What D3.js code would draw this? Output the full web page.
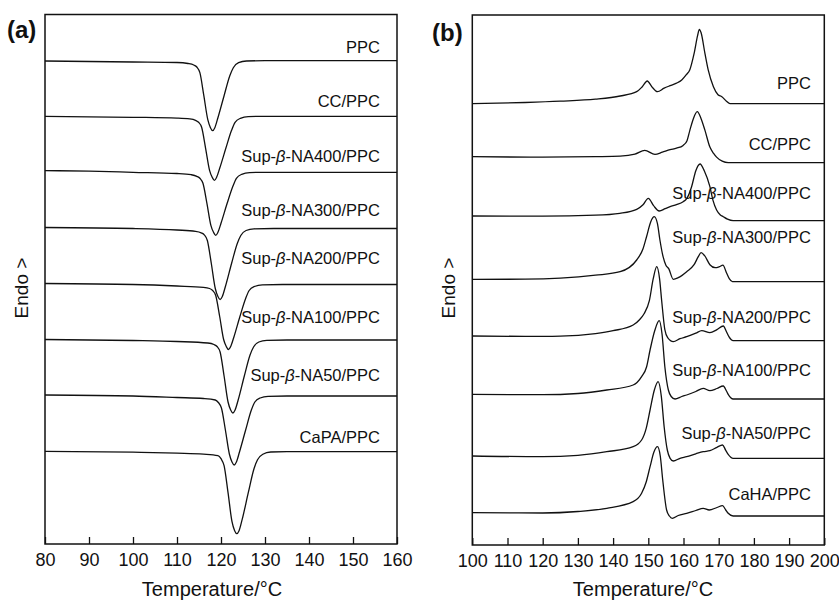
<!DOCTYPE html>
<html lang="en">
<head>
<meta charset="UTF-8">
<title>DSC curves</title>
<script src="https://d3js.org/d3.v7.min.js"></script>
<style>
    body { margin: 0; background: #fff; font-family: 'Liberation Sans', Arial, sans-serif; }
    svg text { fill: #111; }
</style>
</head>
<body>
<script>
// ---------- panel (a): crystallization (exo down) ----------
const namesA = ["PPC", "CC/PPC", "Sup-β-NA400/PPC", "Sup-β-NA300/PPC",
    "Sup-β-NA200/PPC", "Sup-β-NA100/PPC", "Sup-β-NA50/PPC", "CaPA/PPC"];
const offsetsA = [483.3, 427.7, 371.7, 315.5, 259.5, 204, 148, 92.3];
const ticksA = [80, 90, 100, 110, 120, 130, 140, 150, 160];

// [temperature, heat flow relative to baseline]
const ppcA = [[80,-0.3],[100,-1.3],[110,-1.8],[112.5,-2.8],[113.8,-4.3],[114.5,-6.3],[115.2,-12],[116.1,-35],[117,-59],[117.6,-67],[118.1,-70],[118.6,-67],[119.3,-57],[120.7,-35],[122,-15],[122.8,-7],[124,-2],[125.8,-0.3],[130,0],[160,0]];
const ccA = [[80,0],[100,-1],[110,-1.8],[112.9,-2.6],[114.2,-4],[114.9,-6],[115.6,-11],[116.5,-32],[117.4,-54],[118,-61],[118.5,-64],[119,-61],[119.7,-52],[121.1,-32],[122.4,-14],[123.2,-6],[124.4,-2],[126.2,-0.3],[130,0],[160,0]];
const sup400A = [[80,1.6],[90,1.2],[100,0],[110,-1.2],[113.2,-2.4],[114.5,-4],[115.2,-6],[115.9,-11],[116.8,-31],[117.7,-53],[118.3,-60],[118.8,-63],[119.3,-60],[120,-51],[121.4,-31],[122.7,-14],[123.5,-6],[124.7,-2],[126.5,-0.3],[130,0],[160,0]];
const sup300A = [[80,1],[100,0],[110,-1.5],[114.2,-2.8],[115.5,-4.3],[116.2,-6.3],[116.9,-12],[117.8,-35],[118.7,-60],[119.3,-68],[119.8,-71],[120.3,-68],[121,-58],[122.4,-35],[123.7,-15],[124.5,-7],[125.7,-2],[127.5,-0.3],[132,0],[160,0]];
const sup200A = [[80,1],[100,0],[110,-1.5],[116,-2.8],[117.4,-4],[118.1,-6],[118.8,-11],[119.7,-32],[120.6,-55],[121.2,-62],[121.7,-65],[122.2,-62],[122.9,-53],[124.3,-32],[125.6,-14],[126.4,-6],[127.6,-2],[129.4,-0.3],[134,0],[160,0]];
const sup100A = [[80,0.5],[100,-0.5],[110,-1.5],[117,-3],[118.4,-4.5],[119.1,-6.5],[119.8,-12],[120.7,-36],[121.6,-62],[122.2,-70],[122.7,-73],[123.2,-70],[123.9,-60],[125.3,-36],[126.6,-15],[127.4,-7],[128.6,-2],[130.4,-0.3],[135,0],[160,0]];
const sup50A = [[80,1],[100,0],[110,-1.5],[116,-2.5],[118.7,-4],[119.4,-6.5],[120.1,-12],[121,-34],[121.9,-58],[122.5,-66],[123,-69],[123.5,-66],[124.2,-56],[125.6,-34],[126.9,-14],[127.7,-6],[128.9,-2],[130.7,-0.3],[135,0],[160,0]];
const capaA = [[80,0.3],[100,-0.5],[110,-1.5],[116,-2.5],[119.3,-4],[120,-7],[120.7,-14],[121.6,-41],[122.5,-70],[123.1,-79],[123.6,-82],[124.1,-79],[124.8,-68],[126.2,-41],[127.5,-17],[128.3,-8],[129.5,-2.5],[131.3,-0.3],[135,0],[160,0]];
const curvesA = [ppcA, ccA, sup400A, sup300A, sup200A, sup100A, sup50A, capaA];

// ---------- panel (b): melting (endo up) ----------
const namesB = ["PPC", "CC/PPC", "Sup-β-NA400/PPC", "Sup-β-NA300/PPC",
    "Sup-β-NA200/PPC", "Sup-β-NA100/PPC", "Sup-β-NA50/PPC", "CaHA/PPC"];
const offsetsB = [441.3, 382.3, 324.3, 263.3, 204.3, 146, 86.7, 29];
const ticksB = [100, 110, 120, 130, 140, 150, 160, 170, 180, 190, 200];

const ppcB = [[100,0],[115,1.2],[125,2.5],[135,4.5],[142,7.7],[146.7,12],[148.3,17],[149.7,22.7],[151,17],[152.6,12],[154.5,15.5],[156.2,18],[158,20.5],[159.5,23.7],[160.8,29],[161.8,34],[163,50],[164,68],[164.5,74.4],[165,71],[166.1,50],[167,34],[168.5,17],[169.8,9],[170.9,7],[172.2,2.5],[173.2,0],[200,0]];
const ccB = [[100,6],[120,5.5],[135,6],[142,6.5],[146.2,8.5],[149,12.3],[151.9,8.3],[154,10.5],[156.2,13],[158,14.5],[159.9,17.3],[161,22],[161.8,32.3],[162.8,44],[163.9,51],[165,44],[166.1,32.3],[167.5,15.6],[168.5,9.5],[169.4,5.6],[171,1.5],[172.7,0],[200,0]];
const sup400B = [[100,4.7],[120,4.5],[135,5.5],[141.9,7.4],[146.7,11.4],[148.5,16],[150,22.4],[151.5,15],[153.1,9.7],[154.8,12],[156.2,14],[158,16],[159.9,19],[160.9,22],[162.3,34],[163.5,50],[164.7,56.7],[165.9,50],[167.5,34],[168.4,20],[169.4,10.7],[170.4,6],[171.3,4],[172.5,1.5],[174.1,0],[200,0]];
const sup300B = [[100,2.4],[115,2.5],[125,3.5],[135,6.5],[142,10],[146.7,21.7],[148.5,33],[149.5,45],[150.7,60],[151.7,65],[152.6,58],[153.3,41.7],[154.2,25],[155,16.5],[155.8,13],[157.1,2.4],[158.5,4],[160.9,10],[163,17],[164.2,25],[165,29],[166,26],[167.5,17],[169,14],[170.2,15],[171.2,16.5],[172.2,9],[173,3],[173.9,0],[200,0]];
const sup200B = [[100,4.7],[115,4.3],[125,4.5],[135,7],[140,10],[145.7,15.7],[147.5,21],[148.8,27],[150.3,40],[151.4,62],[152.4,74],[153.2,62],[153.8,40],[154.7,11],[155.5,3],[157.1,-1],[159,2],[160.9,4],[163.5,7.5],[165.2,10],[167.5,8],[169.5,11],[171.3,14.7],[172.2,9],[172.9,4],[174.1,0],[200,0]];
const sup100B = [[100,4.7],[120,4.3],[130,5.5],[138.2,9],[145.7,14],[148.1,22.3],[149.5,32],[150.5,49],[151.8,68],[153.1,78.3],[153.9,65],[154.7,32.3],[155.7,9],[156.5,2.5],[157.6,0],[159.5,2.5],[160.9,4],[163.5,7.5],[165.6,10.7],[167.5,8.3],[169.5,10.5],[171.3,13],[172.2,8],[172.7,4.7],[174.1,0],[200,0]];
const sup50B = [[100,2.3],[120,1.6],[130,3],[138.2,6.6],[145.7,11.6],[148.1,18.3],[149.4,30],[150.5,48.3],[151.7,68],[152.8,76.6],[153.7,62],[154.5,31.6],[155.4,8.3],[156.2,0],[157.1,-2.7],[159,0],[160.9,1.6],[163.5,4.5],[165.6,6.6],[167.5,7.6],[169.5,11],[171.1,13.3],[172,8],[172.7,4],[174.1,0],[200,0]];
const cahaB = [[100,3.3],[120,3],[130,4.5],[138.2,7.7],[145.7,14.3],[148.1,22.7],[149.4,34],[150.5,49.3],[151.6,64],[152.6,69.3],[153.4,60],[154.1,36],[155.2,6],[156,0],[156.8,-2.3],[158.5,0.5],[160.9,2.7],[163.5,5.5],[165.6,7.7],[167.3,6],[169.5,8.5],[171.1,10.3],[172,6],[172.7,2.7],[174.1,0],[200,0]];
const curvesB = [ppcB, ccB, sup400B, sup300B, sup200B, sup100B, sup50B, cahaB];

// ---------- layout ----------
const W = 839, H = 601;
const svg = d3.select("body").append("svg")
    .attr("width", W).attr("height", H);

const panels = [
    { id: "a", tag: "(a)", tagX: 7, tagY: 38,
      x0: 45, x1: 397, y0: 14.5, y1: 544, domain: [80, 160], ticks: ticksA,
      names: namesA, offsets: offsetsA, curves: curvesA,
      labelX: 380, labelY: [46.7, 101, 155.7, 210, 258.3, 317.3, 375, 436.7],
      endoX: 28, titleX: 212 },
    { id: "b", tag: "(b)", tagX: 432, tagY: 41,
      x0: 472.3, x1: 824.3, y0: 15, y1: 545, domain: [100, 200], ticks: ticksB,
      names: namesB, offsets: offsetsB, curves: curvesB,
      labelX: 811, labelY: [83.3, 144, 192.7, 237.3, 316.7, 370, 432.7, 494],
      endoX: 455, titleX: 643 }
];

function addLabel(g, name, x, y) {
    const t = g.append("text")
        .attr("x", x).attr("y", y)
        .attr("text-anchor", "end")
        .style("font-size", "16.5px");
    const parts = name.split("β");
    t.append("tspan").text(parts[0]);
    if (parts.length > 1) {
        t.append("tspan").style("font-style", "italic").text("β");
        t.append("tspan").text(parts[1]);
    }
}

panels.forEach(p => {
    const x = d3.scaleLinear().domain(p.domain).range([p.x0, p.x1]);
    const y = d3.scaleLinear().domain([0, 530]).range([p.y1, p.y1 - 530]);

    const g = svg.append("g");

    g.append("clipPath").attr("id", "clip-" + p.id)
        .append("rect")
        .attr("x", p.x0).attr("y", p.y0)
        .attr("width", p.x1 - p.x0).attr("height", p.y1 - p.y0);

    const line = d3.line()
        .x(d => x(d[0]))
        .y(d => y(d[1]))
        .curve(d3.curveMonotoneX);

    g.append("g").attr("clip-path", `url(#clip-${p.id})`)
        .selectAll("path")
        .data(p.curves)
        .join("path")
        .attr("fill", "none")
        .attr("stroke", "#111")
        .attr("stroke-width", 1.3)
        .attr("d", (c, i) => line(c.map(d => [d[0], d[1] + p.offsets[i]])));

    p.names.forEach((n, i) => addLabel(g, n, p.labelX, p.labelY[i] + 6));

    // bottom axis with inward ticks
    const ax = g.append("g")
        .attr("transform", `translate(0,${p.y1})`)
        .call(d3.axisBottom(x).tickValues(p.ticks).tickSizeInner(-7).tickSizeOuter(0).tickPadding(9));
    ax.select(".domain").remove();
    ax.selectAll(".tick line").attr("stroke", "#111").attr("stroke-width", 1.3);
    ax.selectAll(".tick text")
        .attr("fill", "#111")
        .style("font-size", "18px")
        .style("font-family", "'Liberation Sans', Arial, sans-serif");

    // frame
    g.append("rect")
        .attr("x", p.x0).attr("y", p.y0)
        .attr("width", p.x1 - p.x0).attr("height", p.y1 - p.y0)
        .attr("fill", "none")
        .attr("stroke", "#111")
        .attr("stroke-width", 1.5);

    g.append("text")
        .attr("x", p.titleX).attr("y", 596)
        .attr("text-anchor", "middle")
        .style("font-size", "20px")
        .text("Temperature/°C");

    g.append("text")
        .attr("transform", `translate(${p.endoX},288) rotate(-90)`)
        .attr("text-anchor", "middle")
        .style("font-size", "19px")
        .text("Endo >");

    g.append("text")
        .attr("x", p.tagX).attr("y", p.tagY)
        .style("font-size", "24px")
        .style("font-weight", "bold")
        .text(p.tag);
});
</script>
</body>
</html>
